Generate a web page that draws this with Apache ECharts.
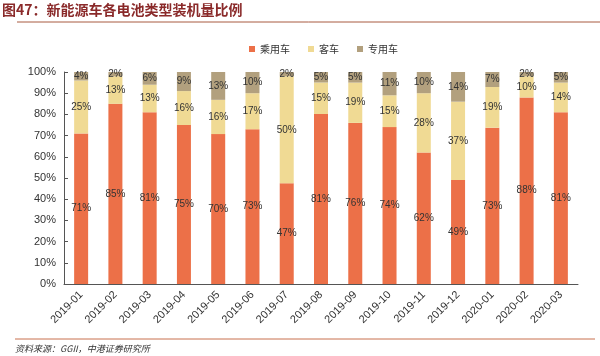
<!DOCTYPE html>
<html><head><meta charset="utf-8">
<script src="https://cdn.jsdelivr.net/npm/echarts@6/dist/echarts.min.js"></script>
<style>html,body{margin:0;padding:0;background:#fff}#c{width:600px;height:356px}</style>
</head><body><div id="c"></div>
<script>
var categories = ['2019-01','2019-02','2019-03','2019-04','2019-05','2019-06','2019-07','2019-08','2019-09','2019-10','2019-11','2019-12','2020-01','2020-02','2020-03'];
var passenger = [71,85,81,75,70,73,47,81,76,74,62,49,73,88,81];
var bus = [25,13,13,16,16,17,50,15,19,15,28,37,19,10,14];
var special = [4,2,6,9,13,10,2,5,5,11,10,14,7,2,5];
var yTicks = ['0%','10%','20%','30%','40%','50%','60%','70%','80%','90%','100%'];
var seriesNames = ['乘用车','客车','专用车'];
var colors = ['#EC7048','#F0DA94','#B2A07E'];

var font = '"Noto Sans CJK SC", "Liberation Sans", sans-serif';
var totals = categories.map(function (c, i) { return passenger[i] + bus[i] + special[i]; });
var chart = echarts.init(document.getElementById('c'));
function mk(name, data, color) {
  return {
    name: name, type: 'bar', stack: 'a', barWidth: 14,
    data: data.map(function (v, i) { return {value: v * 100 / totals[i], raw: v}; }),
    itemStyle: {color: color},
    label: {show: true, position: 'inside', color: '#333', fontSize: 10, fontFamily: '"Liberation Sans", sans-serif',
      formatter: function (p) { return p.data.raw + '%'; }}
  };
}
chart.setOption({
  animation: false,
  textStyle: {fontFamily: font},
  graphic: [
    {type: 'text', left: 2, top: 3, style: {text: '图47：新能源车各电池类型装机量比例', fill: '#8A2A2A', font: 'bold 14px ' + font}},
    {type: 'line', shape: {x1: 17, y1: 22, x2: 600, y2: 22}, style: {stroke: '#A85A40', lineWidth: 1}},
    {type: 'line', shape: {x1: 15, y1: 339, x2: 595, y2: 339}, style: {stroke: '#C8704E', lineWidth: 1}},
    {type: 'text', left: 15, top: 344, style: {text: '资料来源：GGII，中港证券研究所', fill: '#333', font: 'italic 9px ' + font}}
  ],
  legend: {
    top: 39, left: 244, itemWidth: 6, itemHeight: 6, itemGap: 18,
    icon: 'rect',
    textStyle: {fontSize: 10, color: '#333', fontFamily: font},
    data: seriesNames
  },
  grid: {left: 64, right: 22, top: 72, bottom: 72, containLabel: false},
  xAxis: {
    type: 'category', data: categories,
    axisLine: {lineStyle: {color: '#555'}},
    axisTick: {inside: true, length: 4, lineStyle: {color: '#555'}},
    axisLabel: {rotate: 45, fontSize: 11, color: '#333', margin: 9, fontFamily: '"Liberation Sans", sans-serif'}
  },
  yAxis: {
    type: 'value', min: 0, max: 100, interval: 10,
    splitLine: {show: false},
    axisLine: {show: true, lineStyle: {color: '#555'}},
    axisTick: {show: true, inside: true, length: 4, lineStyle: {color: '#555'}},
    axisLabel: {fontSize: 11, color: '#333', fontFamily: '"Liberation Sans", sans-serif',
      formatter: function (v) { return yTicks[Math.round(v / 10)]; }}
  },
  series: [mk(seriesNames[0], passenger, colors[0]), mk(seriesNames[1], bus, colors[1]), mk(seriesNames[2], special, colors[2])]
});
</script></body></html>
